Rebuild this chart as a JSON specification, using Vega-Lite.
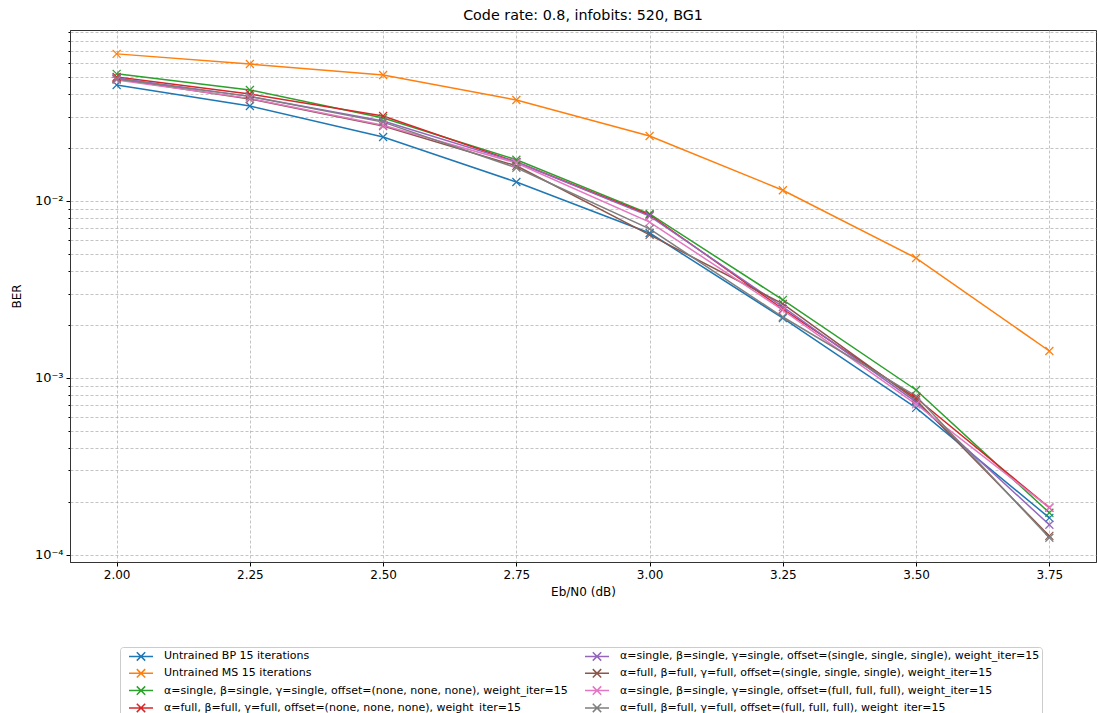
{
  "$schema": "https://vega.github.io/schema/vega-lite/v6.json",
  "autosize": {"type": "none"},
  "width": 1026,
  "height": 532,
  "padding": {"left": 70, "top": 30, "right": 1, "bottom": 151},
  "background": "white",
  "title": {"text": "Code rate: 0.8, infobits: 520, BG1", "font": "DejaVu Sans", "fontSize": 14.3, "fontWeight": "normal", "color": "#000000", "offset": 7, "anchor": "middle"},
  "config": {
    "view": {"stroke": "#333333", "strokeWidth": 1},
    "font": "DejaVu Sans"
  },
  "data": {"values": [
    {"series": "Untrained BP 15 iterations", "ebn0": 2.00, "ber": 0.0452},
    {"series": "Untrained BP 15 iterations", "ebn0": 2.25, "ber": 0.0344},
    {"series": "Untrained BP 15 iterations", "ebn0": 2.50, "ber": 0.0230},
    {"series": "Untrained BP 15 iterations", "ebn0": 2.75, "ber": 0.0128},
    {"series": "Untrained BP 15 iterations", "ebn0": 3.00, "ber": 0.00659},
    {"series": "Untrained BP 15 iterations", "ebn0": 3.25, "ber": 0.00218},
    {"series": "Untrained BP 15 iterations", "ebn0": 3.50, "ber": 0.000678},
    {"series": "Untrained BP 15 iterations", "ebn0": 3.75, "ber": 0.000162},
    {"series": "Untrained MS 15 iterations", "ebn0": 2.00, "ber": 0.0678},
    {"series": "Untrained MS 15 iterations", "ebn0": 2.25, "ber": 0.0594},
    {"series": "Untrained MS 15 iterations", "ebn0": 2.50, "ber": 0.0515},
    {"series": "Untrained MS 15 iterations", "ebn0": 2.75, "ber": 0.0372},
    {"series": "Untrained MS 15 iterations", "ebn0": 3.00, "ber": 0.0233},
    {"series": "Untrained MS 15 iterations", "ebn0": 3.25, "ber": 0.0115},
    {"series": "Untrained MS 15 iterations", "ebn0": 3.50, "ber": 0.00476},
    {"series": "Untrained MS 15 iterations", "ebn0": 3.75, "ber": 0.00142},
    {"series": "α=single, β=single, γ=single, offset=(none, none, none), weight_iter=15", "ebn0": 2.00, "ber": 0.0523},
    {"series": "α=single, β=single, γ=single, offset=(none, none, none), weight_iter=15", "ebn0": 2.25, "ber": 0.0424},
    {"series": "α=single, β=single, γ=single, offset=(none, none, none), weight_iter=15", "ebn0": 2.50, "ber": 0.0294},
    {"series": "α=single, β=single, γ=single, offset=(none, none, none), weight_iter=15", "ebn0": 2.75, "ber": 0.0171},
    {"series": "α=single, β=single, γ=single, offset=(none, none, none), weight_iter=15", "ebn0": 3.00, "ber": 0.00845},
    {"series": "α=single, β=single, γ=single, offset=(none, none, none), weight_iter=15", "ebn0": 3.25, "ber": 0.00276},
    {"series": "α=single, β=single, γ=single, offset=(none, none, none), weight_iter=15", "ebn0": 3.50, "ber": 0.000855},
    {"series": "α=single, β=single, γ=single, offset=(none, none, none), weight_iter=15", "ebn0": 3.75, "ber": 0.000173},
    {"series": "α=full, β=full, γ=full, offset=(none, none, none), weight_iter=15", "ebn0": 2.00, "ber": 0.0502},
    {"series": "α=full, β=full, γ=full, offset=(none, none, none), weight_iter=15", "ebn0": 2.25, "ber": 0.0402},
    {"series": "α=full, β=full, γ=full, offset=(none, none, none), weight_iter=15", "ebn0": 2.50, "ber": 0.0302},
    {"series": "α=full, β=full, γ=full, offset=(none, none, none), weight_iter=15", "ebn0": 2.75, "ber": 0.0166},
    {"series": "α=full, β=full, γ=full, offset=(none, none, none), weight_iter=15", "ebn0": 3.00, "ber": 0.00834},
    {"series": "α=full, β=full, γ=full, offset=(none, none, none), weight_iter=15", "ebn0": 3.25, "ber": 0.00245},
    {"series": "α=full, β=full, γ=full, offset=(none, none, none), weight_iter=15", "ebn0": 3.50, "ber": 0.00077},
    {"series": "α=full, β=full, γ=full, offset=(none, none, none), weight_iter=15", "ebn0": 3.75, "ber": 0.000185},
    {"series": "α=single, β=single, γ=single, offset=(single, single, single), weight_iter=15", "ebn0": 2.00, "ber": 0.0495},
    {"series": "α=single, β=single, γ=single, offset=(single, single, single), weight_iter=15", "ebn0": 2.25, "ber": 0.0390},
    {"series": "α=single, β=single, γ=single, offset=(single, single, single), weight_iter=15", "ebn0": 2.50, "ber": 0.0283},
    {"series": "α=single, β=single, γ=single, offset=(single, single, single), weight_iter=15", "ebn0": 2.75, "ber": 0.0166},
    {"series": "α=single, β=single, γ=single, offset=(single, single, single), weight_iter=15", "ebn0": 3.00, "ber": 0.00822},
    {"series": "α=single, β=single, γ=single, offset=(single, single, single), weight_iter=15", "ebn0": 3.25, "ber": 0.00252},
    {"series": "α=single, β=single, γ=single, offset=(single, single, single), weight_iter=15", "ebn0": 3.50, "ber": 0.00073},
    {"series": "α=single, β=single, γ=single, offset=(single, single, single), weight_iter=15", "ebn0": 3.75, "ber": 0.000148},
    {"series": "α=full, β=full, γ=full, offset=(single, single, single), weight_iter=15", "ebn0": 2.00, "ber": 0.0489},
    {"series": "α=full, β=full, γ=full, offset=(single, single, single), weight_iter=15", "ebn0": 2.25, "ber": 0.0377},
    {"series": "α=full, β=full, γ=full, offset=(single, single, single), weight_iter=15", "ebn0": 2.50, "ber": 0.0265},
    {"series": "α=full, β=full, γ=full, offset=(single, single, single), weight_iter=15", "ebn0": 2.75, "ber": 0.0158},
    {"series": "α=full, β=full, γ=full, offset=(single, single, single), weight_iter=15", "ebn0": 3.00, "ber": 0.00643},
    {"series": "α=full, β=full, γ=full, offset=(single, single, single), weight_iter=15", "ebn0": 3.25, "ber": 0.00262},
    {"series": "α=full, β=full, γ=full, offset=(single, single, single), weight_iter=15", "ebn0": 3.50, "ber": 0.00075},
    {"series": "α=full, β=full, γ=full, offset=(single, single, single), weight_iter=15", "ebn0": 3.75, "ber": 0.000128},
    {"series": "α=single, β=single, γ=single, offset=(full, full, full), weight_iter=15", "ebn0": 2.00, "ber": 0.0483},
    {"series": "α=single, β=single, γ=single, offset=(full, full, full), weight_iter=15", "ebn0": 2.25, "ber": 0.0380},
    {"series": "α=single, β=single, γ=single, offset=(full, full, full), weight_iter=15", "ebn0": 2.50, "ber": 0.0268},
    {"series": "α=single, β=single, γ=single, offset=(full, full, full), weight_iter=15", "ebn0": 2.75, "ber": 0.0164},
    {"series": "α=single, β=single, γ=single, offset=(full, full, full), weight_iter=15", "ebn0": 3.00, "ber": 0.0076},
    {"series": "α=single, β=single, γ=single, offset=(full, full, full), weight_iter=15", "ebn0": 3.25, "ber": 0.00242},
    {"series": "α=single, β=single, γ=single, offset=(full, full, full), weight_iter=15", "ebn0": 3.50, "ber": 0.00071},
    {"series": "α=single, β=single, γ=single, offset=(full, full, full), weight_iter=15", "ebn0": 3.75, "ber": 0.000185},
    {"series": "α=full, β=full, γ=full, offset=(full, full, full), weight_iter=15", "ebn0": 2.00, "ber": 0.0489},
    {"series": "α=full, β=full, γ=full, offset=(full, full, full), weight_iter=15", "ebn0": 2.25, "ber": 0.0390},
    {"series": "α=full, β=full, γ=full, offset=(full, full, full), weight_iter=15", "ebn0": 2.50, "ber": 0.0279},
    {"series": "α=full, β=full, γ=full, offset=(full, full, full), weight_iter=15", "ebn0": 2.75, "ber": 0.0154},
    {"series": "α=full, β=full, γ=full, offset=(full, full, full), weight_iter=15", "ebn0": 3.00, "ber": 0.00695},
    {"series": "α=full, β=full, γ=full, offset=(full, full, full), weight_iter=15", "ebn0": 3.25, "ber": 0.00221},
    {"series": "α=full, β=full, γ=full, offset=(full, full, full), weight_iter=15", "ebn0": 3.50, "ber": 0.00079},
    {"series": "α=full, β=full, γ=full, offset=(full, full, full), weight_iter=15", "ebn0": 3.75, "ber": 0.000125}
  ]},
  "encoding": {
    "x": {
      "field": "ebn0", "type": "quantitative",
      "scale": {"domain": [1.9125, 3.8375], "nice": false, "zero": false},
      "axis": {
        "title": "Eb/N0 (dB)", "titleFont": "DejaVu Sans", "titleFontSize": 12, "titleFontWeight": "normal", "titleColor": "#000000", "titlePadding": 6,
        "values": [2.0, 2.25, 2.5, 2.75, 3.0, 3.25, 3.5, 3.75], "format": ".2f",
        "labelFont": "DejaVu Sans", "labelFontSize": 12, "labelColor": "#000000", "labelPadding": 3,
        "tickSize": 4, "tickColor": "#000000", "tickWidth": 1,
        "domain": true, "domainColor": "#333333", "domainWidth": 1,
        "grid": true, "gridColor": "#aaaaaa", "gridDash": [3, 2], "gridWidth": 0.7
      }
    },
    "y": {
      "field": "ber", "type": "quantitative",
      "scale": {"type": "log", "domain": [0.0000912, 0.0925], "nice": false},
      "axis": {
        "title": "BER", "titleFont": "DejaVu Sans", "titleFontSize": 12, "titleFontWeight": "normal", "titleColor": "#000000", "titlePadding": 11,
        "values": [0.0001, 0.0002, 0.0003, 0.0004, 0.0005, 0.0006, 0.0007, 0.0008, 0.0009, 0.001, 0.002, 0.003, 0.004, 0.005, 0.006, 0.007, 0.008, 0.009, 0.01, 0.02, 0.03, 0.04, 0.05, 0.06, 0.07, 0.08, 0.09],
        "labelExpr": "datum.value == 0.01 ? '10⁻²' : datum.value == 0.001 ? '10⁻³' : datum.value == 0.0001 ? '10⁻⁴' : ''",
        "labelFont": "DejaVu Sans", "labelFontSize": 13, "labelColor": "#000000", "labelPadding": 3,
        "tickSize": {"condition": {"test": "datum.value == 0.01 || datum.value == 0.001 || datum.value == 0.0001", "value": 4}, "value": 2},
        "tickColor": "#000000", "tickWidth": 1,
        "domain": true, "domainColor": "#333333", "domainWidth": 1,
        "grid": true, "gridColor": "#aaaaaa", "gridDash": [3, 2], "gridWidth": 0.7
      }
    },
    "color": {
      "field": "series", "type": "nominal",
      "scale": {
        "domain": [
          "Untrained BP 15 iterations",
          "Untrained MS 15 iterations",
          "α=single, β=single, γ=single, offset=(none, none, none), weight_iter=15",
          "α=full, β=full, γ=full, offset=(none, none, none), weight_iter=15",
          "α=single, β=single, γ=single, offset=(single, single, single), weight_iter=15",
          "α=full, β=full, γ=full, offset=(single, single, single), weight_iter=15",
          "α=single, β=single, γ=single, offset=(full, full, full), weight_iter=15",
          "α=full, β=full, γ=full, offset=(full, full, full), weight_iter=15"
        ],
        "range": ["#1f77b4", "#ff7f0e", "#2ca02c", "#d62728", "#9467bd", "#8c564b", "#e377c2", "#7f7f7f"]
      },
      "legend": {
        "title": null,
        "orient": "none", "legendX": 50, "legendY": 617,
        "columns": 2, "columnPadding": 10, "rowPadding": 1.3,
        "symbolType": "M-2,0L2,0M-0.7,-0.7L0.7,0.7M-0.7,0.7L0.7,-0.7",
        "symbolSize": 144, "symbolStrokeWidth": 1.5, "symbolFillColor": "transparent", "symbolOffset": 12,
        "labelFont": "DejaVu Sans", "labelFontSize": 11, "labelColor": "#000000", "labelOffset": 16, "labelLimit": 600,
        "padding": 2, "strokeColor": "#cccccc", "fillColor": "#ffffff", "cornerRadius": 3
      }
    }
  },
  "layer": [
    {"mark": {"type": "line", "strokeWidth": 1.5}},
    {"mark": {"type": "point", "shape": "M-1,-1L1,1M-1,1L1,-1", "size": 64, "filled": false, "strokeWidth": 1.2, "opacity": 1}}
  ]
}
